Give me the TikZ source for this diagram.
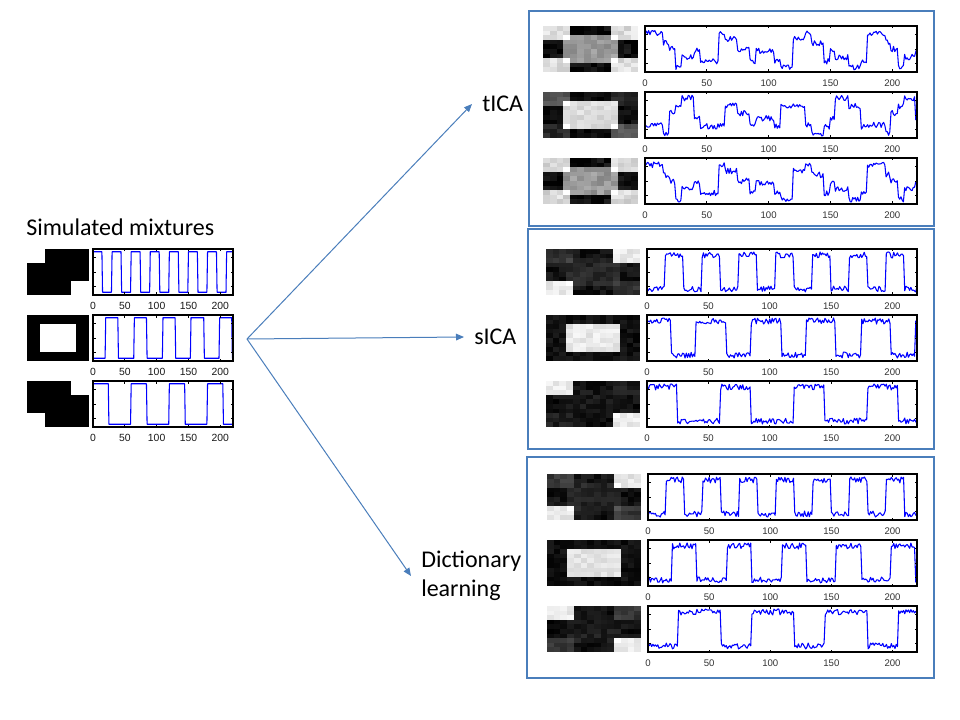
\documentclass[tikz,border=0pt]{standalone}
\usepackage{fontspec}
\setmainfont{Carlito}
\newfontfamily\axisfont{Liberation Sans}
\usepackage{xcolor}
\usepackage{tikz}
\usetikzlibrary{arrows.meta,positioning}

\definecolor{pptblue}{HTML}{4A7EBB}

% component map: 14 x 10 cells (x, y, cell width, wTL, wTR, wRect, base, noise)
\newcommand\compmap[8]{%
  \foreach \ix in {0,...,13}{
    \foreach \iy in {0,...,9}{
      \pgfmathsetmacro\gl{min(1,max(0,#7+#4*mTL(\ix,\iy)+#5*mTR(\ix,\iy)+#6*mRect(\ix,\iy)+#8*(rnd-0.5)))}
      \pgfmathsetmacro\kk{100*(1-\gl)}
      \fill[black!\kk] ({#1+\ix*#3},{#2+\iy*4.6}) rectangle ++({#3+0.4},5);
    }
  }}

% time course (x, y, width, seed, value)
\newcommand\sigtrace[5]{%
  \begin{scope}
    \clip (#1,#2) rectangle ++(#3,46);
    \pgfmathsetseed{#4}
    \draw[sig] plot[domain=0:220, samples=221, variable=\t] ({#1+\t/220*#3},{#2+46*(0.94-0.88*(#5))});
  \end{scope}}

% axes with ticks (name, x, y, width, label style)
\newcommand\sigaxes[5]{%
  \draw[axframe] (#2,#3) rectangle ++(#4,46);
  \foreach \tk in {0,50,...,200}{
    \draw[axtick] ({#2+\tk/220*#4},#3) -- ++(0,2.5);
    \draw[axtick] ({#2+\tk/220*#4},{#3+46}) -- ++(0,-2.5);
    \node[#5] (#1-\tk) at ({#2+\tk/220*#4},{#3+57}) {\tk};
  }
  \foreach \fr in {0.18,0.5,0.82}{
    \draw[axtick] (#2,{#3+46*\fr}) -- ++(2.5,0);
    \draw[axtick] ({#2+#4},{#3+46*\fr}) -- ++(-2.5,0);
  }}

\begin{document}
\begin{tikzpicture}[
    x=0.75pt, y=-0.75pt,
    sig/.style={blue, line width=0.8pt, line join=round},
    axframe/.style={draw=black, line width=0.8pt},
    axtick/.style={black, line width=0.5pt},
    mixlab/.style={font=\axisfont\fontsize{7.8}{9}\selectfont, text=black!90, inner sep=0pt},
    outlab/.style={font=\axisfont\fontsize{7.2}{8}\selectfont, text=black!80, inner sep=0pt},
    panel/.style={draw=pptblue, line width=1pt},
    method/.style={font=\fontsize{18}{21.6}\selectfont, anchor=west, align=left, inner xsep=7.5pt},
    flow/.style={draw=pptblue, line width=0.75pt, -{Triangle[length=6pt,width=5pt]}},
    declare function={
      mTL(\p,\q)=(\p<4)*(\q<3)+(\p>9)*(\q>6);
      mTR(\p,\q)=(\p>9)*(\q<3)+(\p<4)*(\q>6);
      mRect(\p,\q)=(\p>2)*(\p<11)*(\q>1)*(\q<8);
      sA(\p)=1-(mod(\p,30)<15);
      sB(\p)=(mod(\p+4.7,44.7)<24.5);
      sC(\p)=(mod(\p,60)<24.5);
    }
]
    \fill[white] (0,0) rectangle (960,720);
    \useasboundingbox (0,0) rectangle (960,720);

    % Simulated mixtures
    \node[method] (mixtures) at (16,227) {Simulated mixtures};
    \compmap{27}{249}{4.4286}{1}{0}{0}{0}{0}
    \compmap{27}{315}{4.4286}{0}{0}{1}{0}{0}
    \compmap{27}{381}{4.4286}{0}{1}{0}{0}{0}
    \sigtrace{93}{249}{140}{1}{1-sA(\t)}
    \sigtrace{93}{315}{140}{2}{1-sB(\t)}
    \sigtrace{93}{381}{140}{3}{sC(\t)}
    \sigaxes{mixA}{93}{249}{140}{mixlab}
    \sigaxes{mixB}{93}{315}{140}{mixlab}
    \sigaxes{mixC}{93}{381}{140}{mixlab}

    % Methods
    \coordinate (split) at (247,339);
    \node[method] (tica) at (472,104) {tICA};
    \node[method] (sica) at (464,337) {sICA};
    \node[method] (dict) at (411,576) {Dictionary\\learning};
    \draw[flow] (split) -- (tica.west);
    \draw[flow] (split) -- (sica.west);
    \draw[flow] (split) -- (dict.west);

    % tICA results
    \draw[panel] (529,11) rectangle (934,226);
    \pgfmathsetseed{11}
    \compmap{543}{26}{6.786}{0.82}{0.82}{0.55}{0.05}{0.16}
    \compmap{543}{92}{6.786}{0.3}{0.12}{0.82}{0.04}{0.12}
    \compmap{543}{158}{6.786}{0.8}{0.8}{0.55}{0.05}{0.16}
    \sigtrace{645}{26}{272}{21}{0.3-0.25*sA(\t)+0.15*sB(\t)+0.45*sC(\t)+0.14*(rnd-0.5)}
    \sigtrace{645}{92}{272}{22}{0.92-0.2*sA(\t)-0.5*sB(\t)-0.17*sC(\t)+0.14*(rnd-0.5)}
    \sigtrace{645}{158}{272}{23}{0.3-0.25*sA(\t)+0.15*sB(\t)+0.45*sC(\t)+0.14*(rnd-0.5)}
    \sigaxes{ticaA}{645}{26}{272}{outlab}
    \sigaxes{ticaB}{645}{92}{272}{outlab}
    \sigaxes{ticaC}{645}{158}{272}{outlab}

    % sICA results
    \draw[panel] (528,229) rectangle (934,449);
    \pgfmathsetseed{12}
    \compmap{546}{249}{6.714}{0.12}{0.85}{0.08}{0.07}{0.12}
    \compmap{546}{315}{6.714}{0}{0}{0.85}{0.06}{0.12}
    \compmap{546}{381}{6.714}{0.85}{0.05}{0.03}{0.06}{0.12}
    \sigtrace{647}{249}{270}{31}{0.08+0.84*sA(\t)+0.15*(rnd-0.5)}
    \sigtrace{647}{315}{270}{32}{0.08+0.84*sB(\t)+0.15*(rnd-0.5)}
    \sigtrace{647}{381}{270}{33}{0.08+0.84*sC(\t)+0.15*(rnd-0.5)}
    \sigaxes{sicaA}{647}{249}{270}{outlab}
    \sigaxes{sicaB}{647}{315}{270}{outlab}
    \sigaxes{sicaC}{647}{381}{270}{outlab}

    % Dictionary learning results
    \draw[panel] (527,457) rectangle (934,678);
    \pgfmathsetseed{13}
    \compmap{547}{474}{6.714}{0.15}{0.83}{0.08}{0.07}{0.12}
    \compmap{547}{540}{6.714}{0}{0}{0.83}{0.06}{0.1}
    \compmap{547}{606}{6.714}{0.85}{0.15}{0.05}{0.06}{0.12}
    \sigtrace{648}{474}{269}{41}{0.08+0.84*sA(\t)+0.15*(rnd-0.5)}
    \sigtrace{648}{540}{269}{42}{0.92-0.84*sB(\t)+0.15*(rnd-0.5)}
    \sigtrace{648}{606}{269}{43}{0.92-0.84*sC(\t)+0.15*(rnd-0.5)}
    \sigaxes{dictA}{648}{474}{269}{outlab}
    \sigaxes{dictB}{648}{540}{269}{outlab}
    \sigaxes{dictC}{648}{606}{269}{outlab}
\end{tikzpicture}
\end{document}
